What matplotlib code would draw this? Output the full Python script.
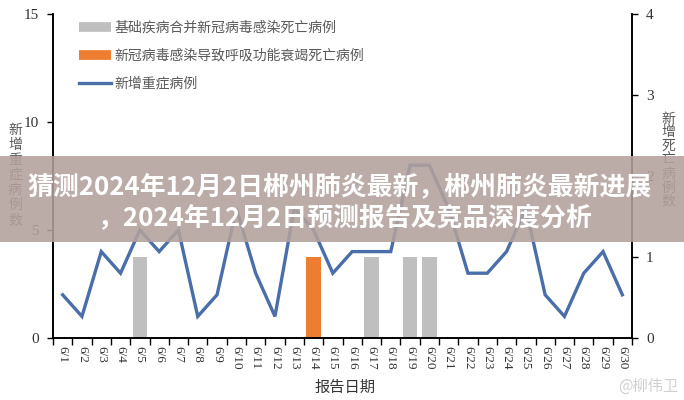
import matplotlib
matplotlib.use("Agg")
import matplotlib.pyplot as plt
from matplotlib.lines import Line2D
from matplotlib.patches import Rectangle
import numpy as np

plt.rcParams['font.family'] = ['Noto Sans CJK SC', 'DejaVu Sans']

dates = [f"6/{d}" for d in range(1, 31)]
severe_new = [2, 1, 4, 3, 5, 4, 5, 1, 2, 6, 3, 1, 6, 5, 3,
              4, 4, 4, 8, 8, 6, 3, 3, 4, 6, 2, 1, 3, 4, 2]
death_underlying = {"6/5": 1, "6/17": 1, "6/19": 1, "6/20": 1}
death_respiratory = {"6/14": 1}

legend_labels = ["基础疾病合并新冠病毒感染死亡病例",
                 "新冠病毒感染导致呼吸功能衰竭死亡病例",
                 "新增重症病例"]
left_label = "新增重症病例数"
right_label = "新增死亡病例数"
x_label = "报告日期"
title_line1 = "猜测2024年12月2日郴州肺炎最新，郴州肺炎最新进展"
title_line2 = "，2024年12月2日预测报告及竞品深度分析"
watermark = "@柳伟卫"

C_GRAY = "#BFBFBF"
C_ORANGE = "#ED7D31"
C_BLUE = "#4A6EA9"
TXT = "#595959"
SERIF = "Liberation Serif"

fig = plt.figure(figsize=(6.84, 4.0), dpi=100)
ax = fig.add_axes([53/684, 1-338/400, (632-53)/684, (338-14)/400])
ax2 = ax.twinx()

x = np.arange(len(dates))
g_vals = [death_underlying.get(d, 0) for d in dates]
o_vals = [death_respiratory.get(d, 0) for d in dates]
ax2.bar(x, g_vals, width=0.75, color=C_GRAY, zorder=2)
ax2.bar(x, o_vals, width=0.75, color=C_ORANGE, zorder=2)
ax.plot(x, severe_new, color=C_BLUE, lw=2.4, solid_joinstyle='miter', zorder=3)

ax.set_zorder(ax2.get_zorder() + 1)
ax.patch.set_visible(False)

ax.set_xlim(-0.5, len(dates) - 0.5)
ax.set_ylim(0, 15)
ax2.set_ylim(0, 4)
ax.set_yticks([0, 5, 10, 15])
ax2.set_yticks([0, 1, 2, 3, 4])

for a in (ax, ax2):
    a.spines['top'].set_visible(False)
    for s in ('left', 'right', 'bottom'):
        a.spines[s].set_color('black')
        a.spines[s].set_linewidth(1.2)

ax.tick_params(axis='y', direction='out', length=4, width=1, pad=6,
               labelsize=11, labelcolor='#333333')
ax2.tick_params(axis='y', direction='out', length=4, width=1, pad=6,
                labelsize=11, labelcolor='#333333')
for lab in ax.get_yticklabels() + ax2.get_yticklabels():
    lab.set_fontfamily(SERIF)

ax.set_xticks(x)
ax.set_xticklabels(dates, rotation=270, fontsize=9.5, color='#333333',
                   fontfamily=SERIF)
ax.tick_params(axis='x', which='major', length=0, pad=6)
ax.set_xticks(np.arange(-0.5, len(dates) + 0.5, 1), minor=True)
ax.tick_params(axis='x', which='minor', length=5, width=1, direction='out')
ax2.tick_params(axis='x', length=0)

# stacked vertical axis labels
fig.text(15/684, 1-175/400, "\n".join(left_label), ha='center', va='center',
         fontsize=10, color=TXT, linespacing=1.1)
fig.text(668/684, 1-160/400, "\n".join(right_label), ha='center', va='center',
         fontsize=10, color=TXT, linespacing=0.98)
fig.text(345/684, 1-387/400, x_label, ha='center', va='center',
         fontsize=11, color='#333333')

handles = [Line2D([0], [0], color=C_GRAY, lw=7, solid_capstyle='butt'),
           Line2D([0], [0], color=C_ORANGE, lw=7, solid_capstyle='butt'),
           Line2D([0], [0], color=C_BLUE, lw=2.4)]
leg = ax.legend(handles, legend_labels, loc='upper left',
                bbox_to_anchor=(18/579, 1.005), frameon=False,
                fontsize=10, handlelength=2.3, handletextpad=0.2,
                labelspacing=1.0, labelcolor=TXT, borderaxespad=0.2)

# title band overlay
band = Rectangle((0, 1-242/400), 1, 86/400, transform=fig.transFigure,
                 facecolor=(0.70, 0.63, 0.61), alpha=0.88, edgecolor='none',
                 zorder=10)
fig.add_artist(band)
fig.text(340/684, 1-188/400, title_line1, ha='center', va='center',
         fontsize=18.6, fontweight='bold', color='white', zorder=11)
fig.text(345/684, 1-219/400, title_line2, ha='center', va='center',
         fontsize=18.6, fontweight='bold', color='white', zorder=11)

fig.text(648/684, 1-386/400, watermark, ha='center', va='center',
         fontsize=11, color='#D0D0D0', zorder=11)

fig.savefig("out.png", dpi=100)
